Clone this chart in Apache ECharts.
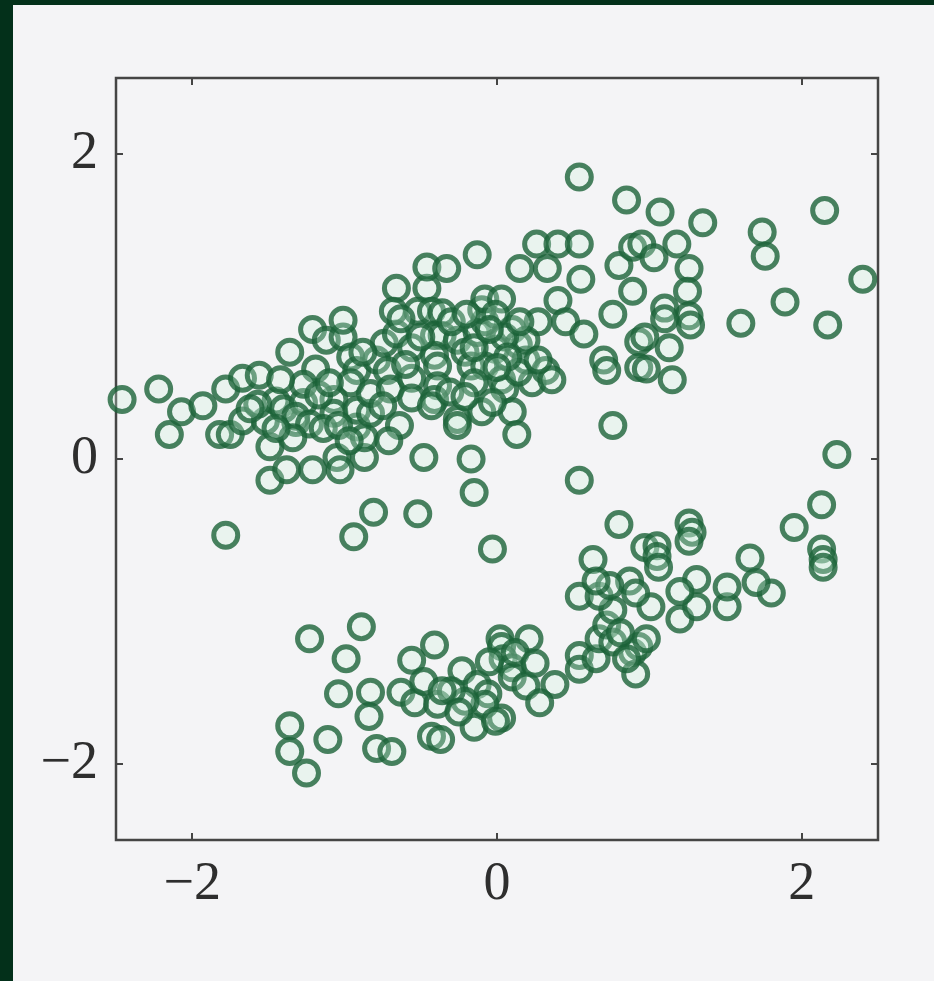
<!DOCTYPE html>
<html>
<head>
<meta charset="utf-8">
<script src="https://cdn.jsdelivr.net/npm/echarts@6/dist/echarts.min.js"></script>
<style>
  html, body { margin: 0; padding: 0; background: #03301a; width: 934px; height: 981px; overflow: hidden; }
  #scatter { position: absolute; left: 13px; top: 5px; width: 921px; height: 976px; background: #f4f4f6; }
</style>
</head>
<body>
<div id="scatter"></div>
<script>
// tick labels
var tickValues = [-2, 0, 2];

// upper band of points
var upperBand = [
  [-2.46, 0.39], [-2.22, 0.46], [-2.15, 0.16], [-2.07, 0.31], [-1.93, 0.35], [-1.82, 0.16],
  [-1.75, 0.16], [-1.67, 0.25], [-1.78, 0.46], [-1.67, 0.53], [-1.56, 0.55], [-1.52, 0.25],
  [-1.49, 0.08], [-1.49, -0.14], [-1.38, -0.07], [-1.21, -0.07], [-1.32, 0.24], [-1.45, 0.38],
  [-1.40, 0.33], [-1.36, 0.70], [-1.05, 0.01], [-1.03, -0.07], [-0.87, 0.01], [-0.92, 0.21],
  [-0.87, 0.14], [-1.78, -0.50], [-0.94, -0.51], [-0.81, -0.35], [-1.27, 0.37], [-1.32, 0.28],
  [-1.21, 0.85], [-1.12, 0.78], [-1.01, 0.80], [-1.01, 0.91], [-1.19, 0.59], [-0.96, 0.67],
  [-0.92, 0.58], [-0.96, 0.50], [-0.79, 0.65], [-0.74, 0.76], [-0.66, 0.82], [-0.56, 0.73],
  [-1.07, 0.39], [-1.07, 0.30], [-0.92, 0.32], [-0.83, 0.30], [-0.83, 0.43], [-0.72, 0.58],
  [-0.70, 0.46], [-0.56, 0.53], [-0.56, 0.40], [-0.66, 1.12], [-0.46, 1.12], [-0.46, 1.26],
  [-0.33, 1.25], [-0.68, 0.97], [-0.52, 0.97], [-0.43, 0.97], [-0.36, 0.96], [-0.63, 0.92],
  [-0.41, 0.81], [-0.36, 0.81], [-0.41, 0.68], [-0.39, 0.61], [-0.26, 0.78], [-0.21, 0.70],
  [-0.13, 0.83], [-0.08, 0.90], [-0.10, 0.98], [-0.08, 1.05], [0.03, 1.05], [-0.01, 0.72],
  [0.10, 0.85], [0.14, 0.75], [0.19, 0.65], [-0.17, 0.61], [-0.08, 0.61], [0.03, 0.52],
  [0.05, 0.46], [-0.15, 0.50], [-0.39, 0.48], [-0.41, 0.39], [-0.43, 0.35], [-0.26, 0.26],
  [-0.10, 0.31], [0.10, 0.31], [0.23, 0.50], [0.14, 0.57], [-0.03, 0.37], [-0.26, 0.22],
  [0.13, 0.16], [-0.48, 0.01], [-0.17, 0.00], [-0.15, -0.22], [-0.52, -0.36], [-0.03, -0.59],
  [0.54, -0.14], [0.76, 0.22], [-0.13, 1.34], [0.15, 1.25], [0.33, 1.25], [0.26, 1.41],
  [0.40, 1.41], [0.54, 1.41], [0.55, 1.18], [0.40, 1.04], [0.27, 0.90], [0.45, 0.90],
  [0.57, 0.82], [0.70, 0.65], [0.72, 0.58], [0.32, 0.58], [0.36, 0.52], [0.80, 1.27],
  [0.89, 1.39], [0.89, 1.10], [0.76, 0.95], [0.93, 0.77], [0.93, 0.60], [0.19, 0.78],
  [0.27, 0.65], [0.54, 1.85], [0.85, 1.70], [1.07, 1.62], [1.35, 1.55], [1.74, 1.49],
  [1.76, 1.33], [2.15, 1.63], [2.40, 1.18], [1.89, 1.03], [1.60, 0.89], [2.17, 0.88],
  [0.95, 1.41], [1.03, 1.32], [1.18, 1.41], [1.26, 1.25], [1.25, 1.10], [1.26, 0.94],
  [1.27, 0.88], [1.10, 0.99], [1.10, 0.92], [0.97, 0.80], [1.13, 0.73], [0.98, 0.59],
  [1.15, 0.52], [-1.27, 0.49], [-1.17, 0.42], [-1.42, 0.52], [-1.23, 0.23], [-1.14, 0.20],
  [-1.04, 0.22], [-0.97, 0.12], [-1.34, 0.14], [-1.57, 0.36], [-1.45, 0.20], [-1.62, 0.33],
  [-0.64, 0.22], [-0.71, 0.12], [-0.31, 0.44], [-0.21, 0.41], [-0.01, 0.95], [0.05, 0.80],
  [-0.15, 0.73], [0.07, 0.67], [0.15, 0.90], [-0.88, 0.70], [-0.60, 0.62], [-0.30, 0.90],
  [-0.20, 0.95], [-0.05, 0.85], [-0.50, 0.80], [-1.10, 0.50], [-0.75, 0.35], [0.00, 0.60]
];

// lower band of points
var lowerBand = [
  [-1.23, -1.18], [-0.89, -1.10], [-0.99, -1.31], [-1.04, -1.54], [-0.83, -1.53], [-0.84, -1.69],
  [-1.36, -1.75], [-1.36, -1.92], [-1.11, -1.84], [-1.25, -2.06], [-0.79, -1.90], [-0.69, -1.92],
  [-0.56, -1.32], [-0.41, -1.22], [-0.23, -1.39], [-0.63, -1.53], [-0.54, -1.60], [-0.39, -1.61],
  [-0.43, -1.82], [-0.37, -1.84], [-0.15, -1.76], [0.03, -1.70], [-0.13, -1.48], [0.02, -1.18],
  [0.03, -1.23], [0.04, -1.31], [0.21, -1.18], [0.10, -1.37], [0.10, -1.43], [0.19, -1.49],
  [-0.06, -1.54], [-0.08, -1.61], [0.38, -1.48], [0.54, -1.29], [0.54, -1.38], [0.65, -1.31],
  [0.67, -1.18], [0.72, -1.09], [0.76, -0.99], [0.54, -0.90], [0.67, -0.90], [0.89, -1.27],
  [0.91, -1.41], [0.93, -1.23], [1.01, -0.97], [1.20, -1.05], [1.31, -0.97], [1.51, -0.97],
  [1.80, -0.88], [0.63, -0.66], [0.80, -0.43], [0.97, -0.58], [1.05, -0.57], [1.05, -0.64],
  [1.06, -0.71], [1.26, -0.42], [1.28, -0.48], [1.26, -0.54], [1.66, -0.65], [1.70, -0.81],
  [1.51, -0.84], [1.31, -0.79], [1.20, -0.87], [0.87, -0.80], [1.95, -0.45], [2.13, -0.30],
  [2.23, 0.03], [2.13, -0.59], [2.14, -0.66], [2.14, -0.71], [0.74, -0.83], [0.91, -0.88],
  [0.65, -0.80], [0.76, -1.20], [0.81, -1.14], [0.98, -1.18], [0.85, -1.31], [-0.21, -1.59],
  [-0.30, -1.52], [-0.05, -1.33], [0.12, -1.27], [0.25, -1.34], [0.28, -1.60], [-0.01, -1.72],
  [-0.25, -1.66], [-0.48, -1.46], [-0.36, -1.52]
];

var myChart = echarts.init(document.getElementById('scatter'));

function minusSign(v) {
  return String(v).replace('-', '\u2212');
}

var frameColor = '#454545';

var labelStyle = {
  fontFamily: 'Liberation Serif',
  fontSize: 54,
  color: '#2e2e2e'
};

var ringStyle = {
  color: 'rgba(205,240,220,0.35)',
  borderColor: '#1b6338',
  borderWidth: 5
};

function frameAxis(pos, showLabel) {
  return {
    type: 'value',
    min: -2.5,
    max: 2.5,
    position: pos,
    splitLine: { show: false },
    axisLine: { show: false, onZero: false },
    axisTick: {
      show: true,
      inside: true,
      length: 7,
      customValues: tickValues,
      lineStyle: { color: frameColor, width: 2 }
    },
    axisLabel: {
      show: showLabel,
      customValues: tickValues,
      margin: 18,
      formatter: minusSign,
      fontFamily: labelStyle.fontFamily,
      fontSize: labelStyle.fontSize,
      color: labelStyle.color
    }
  };
}

option = {
  animation: false,
  grid: {
    left: 103,
    top: 73,
    width: 762,
    height: 762,
    show: true,
    borderColor: frameColor,
    borderWidth: 2.5,
    backgroundColor: 'transparent'
  },
  xAxis: [frameAxis('bottom', true), frameAxis('top', false)],
  yAxis: [frameAxis('left', true), frameAxis('right', false)],
  series: [{
    type: 'scatter',
    data: upperBand,
    symbol: 'circle',
    symbolSize: 24,
    itemStyle: ringStyle
  }, {
    type: 'scatter',
    data: lowerBand,
    symbol: 'circle',
    symbolSize: 24,
    itemStyle: ringStyle
  }]
};
myChart.setOption(option);
</script>
</body>
</html>
